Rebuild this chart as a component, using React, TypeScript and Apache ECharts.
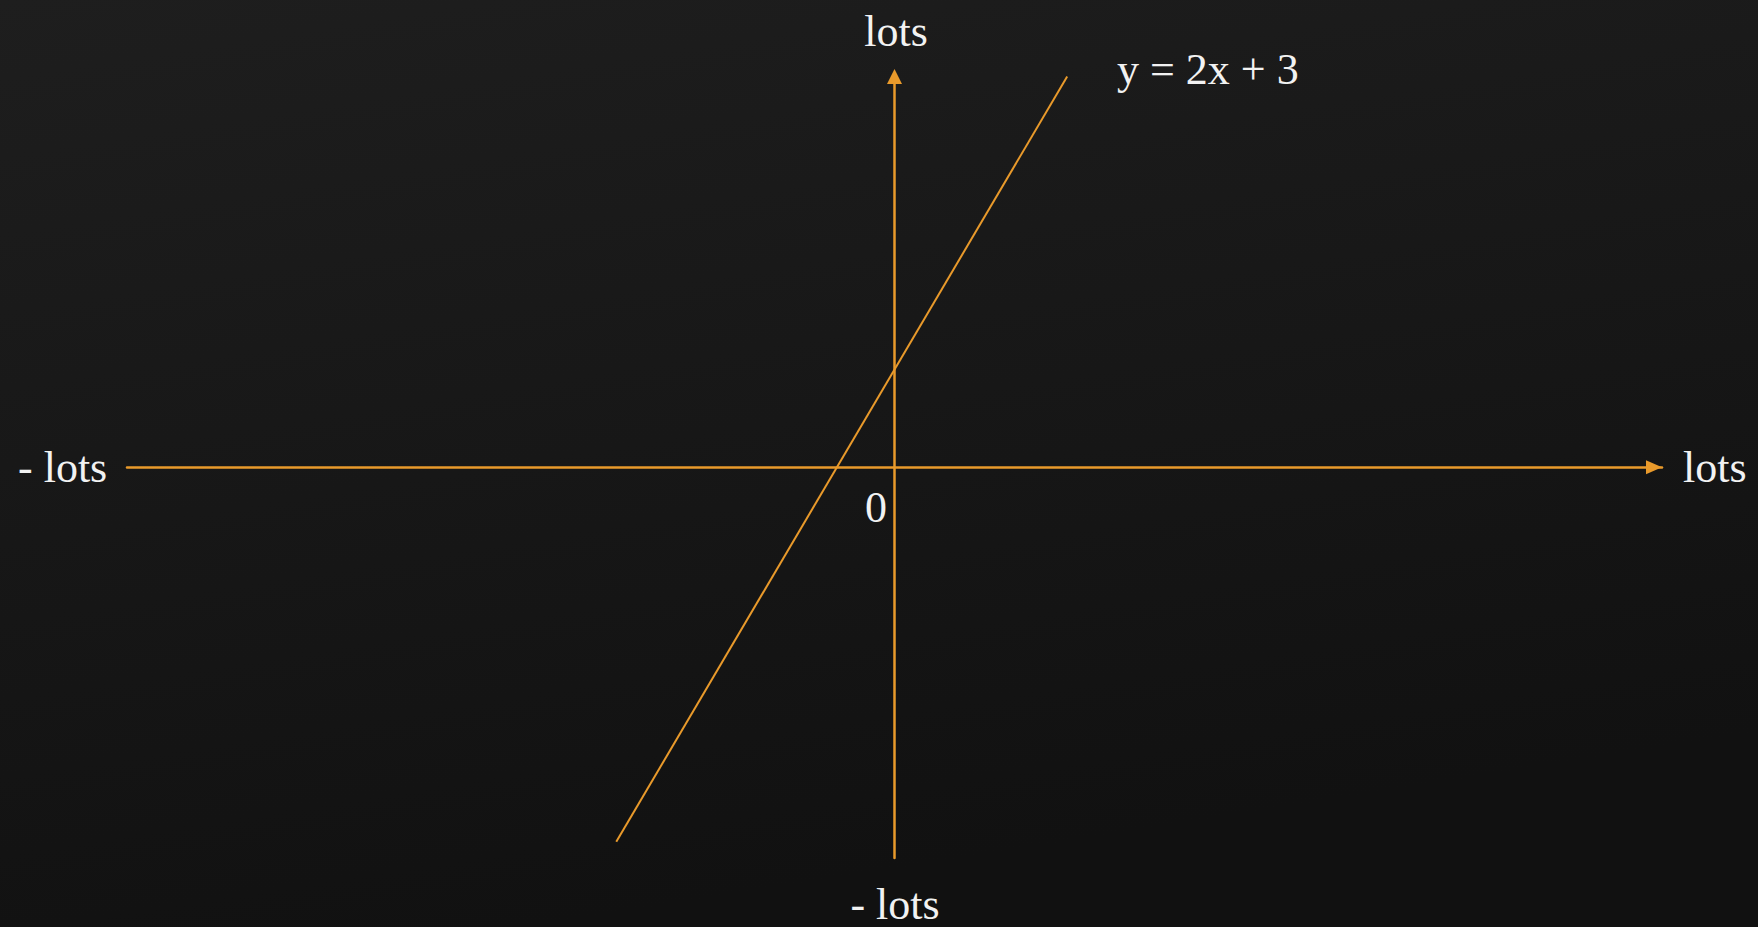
import React, { useEffect, useRef } from "react";
import * as echarts from "echarts";

// Axis extents (units)
const xRange = [-20, 20];
const yRange = [-12, 12];

// y = 2x + 3, drawn between these two x values
const lineXs = [-7.25, 4.5];
const slope = 2;
const intercept = 3;
const linePoints = lineXs.map((x) => [x, slope * x + intercept]);

const equationText = "y = 2x + 3";
const posLabel = "lots";
const negLabel = "- lots";
const originLabel = "0";

const ORANGE = "#E99A2B";
const TEXT = "#F2F2F2";
const FONT = "'Liberation Serif', 'DejaVu Serif', serif";
const FS = 44;

export default function App() {
  const ref = useRef<HTMLDivElement>(null);

  useEffect(() => {
    if (!ref.current) return;
    const chart = echarts.init(ref.current, undefined, { renderer: "svg" });

    const textStyle = (text: string, align: string) => ({
      text,
      fill: TEXT,
      font: `${FS}px ${FONT}`,
      textAlign: align,
      textVerticalAlign: "middle",
    });

    chart.setOption({
      animation: false,
      backgroundColor: {
        type: "linear",
        x: 0,
        y: 0,
        x2: 0.3,
        y2: 1,
        colorStops: [
          { offset: 0, color: "#1e1e1e" },
          { offset: 1, color: "#111111" },
        ],
      },
      grid: { left: 127, right: 96, top: 76.5, bottom: 69, containLabel: false },
      xAxis: {
        type: "value",
        min: xRange[0],
        max: xRange[1],
        axisLine: {
          show: true,
          onZero: true,
          symbol: ["none", "triangle"],
          symbolSize: [14, 16],
          symbolOffset: [0, -8],
          lineStyle: { color: ORANGE, width: 2.5 },
        },
        axisTick: { show: false },
        axisLabel: { show: false },
        splitLine: { show: false },
      },
      yAxis: {
        type: "value",
        min: yRange[0],
        max: yRange[1],
        axisLine: {
          show: true,
          onZero: true,
          symbol: ["none", "triangle"],
          symbolSize: [15, 15],
          symbolOffset: [0, 0],
          lineStyle: { color: ORANGE, width: 2.5 },
        },
        axisTick: { show: false },
        axisLabel: { show: false },
        splitLine: { show: false },
      },
      series: [
        {
          type: "line",
          data: linePoints,
          showSymbol: false,
          symbol: "none",
          lineStyle: { color: ORANGE, width: 2 },
          silent: true,
        },
      ],
      graphic: [
        { type: "text", x: 896, y: 31, style: textStyle(posLabel, "center") },
        { type: "text", x: 1683, y: 467, style: textStyle(posLabel, "left") },
        { type: "text", x: 18, y: 467, style: textStyle(negLabel, "left") },
        { type: "text", x: 895, y: 904, style: textStyle(negLabel, "center") },
        { type: "text", x: 876, y: 507, style: textStyle(originLabel, "center") },
        { type: "text", x: 1117, y: 69, style: textStyle(equationText, "left") },
      ],
    });

    return () => chart.dispose();
  }, []);

  return (
    <div
      ref={ref}
      style={{ position: "fixed", left: 0, top: 0, width: 1758, height: 927 }}
    />
  );
}
